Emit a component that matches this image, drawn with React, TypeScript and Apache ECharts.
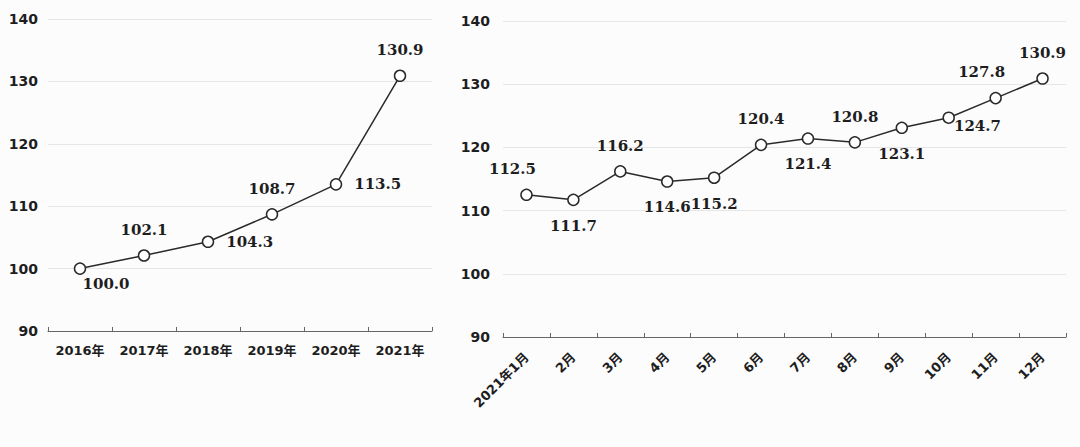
import React, { useEffect, useRef } from "react";
import * as echarts from "echarts";

const yearCats = ["2016年", "2017年", "2018年", "2019年", "2020年", "2021年"];
const yearVals = [100.0, 102.1, 104.3, 108.7, 113.5, 130.9];
const yearLabelPos = ["bottomRight", "top", "right", "top", "right", "top"];

const monthCats = ["2021年1月", "2月", "3月", "4月", "5月", "6月", "7月", "8月", "9月", "10月", "11月", "12月"];
const monthVals = [112.5, 111.7, 116.2, 114.6, 115.2, 120.4, 121.4, 120.8, 123.1, 124.7, 127.8, 130.9];
const monthLabelPos = ["topLeft", "bottom", "top", "bottom", "bottom", "top", "bottom", "top", "bottom", "rightLow", "topLeft", "top"];

const yTicks = { min: 90, max: 140, interval: 10 };

const NUM_FONT = "'DejaVu Serif', 'Noto Sans CJK SC', serif";
const AXIS_FONT = "'DejaVu Sans', 'Noto Sans CJK SC', sans-serif";

function labelFor(kind: string) {
  const base: any = {
    show: true,
    distance: 12,
    fontFamily: NUM_FONT,
    fontWeight: "bold",
    fontSize: 15,
    color: "#1e1e1e",
    formatter: (p: any) => Number(p.value).toFixed(1),
  };
  switch (kind) {
    case "bottomRight":
      return { ...base, position: "bottom", offset: [26, -10] };
    case "topLeft":
      return { ...base, position: "top", offset: [-14, 0] };
    case "rightLow":
      return { ...base, position: "right", offset: [-13, 8] };
    default:
      return { ...base, position: kind };
  }
}

export default function App() {
  const ref = useRef<HTMLDivElement>(null);
  useEffect(() => {
    if (!ref.current) return;
    const chart = echarts.init(ref.current, undefined, { renderer: "svg" });
    const yAxisBase = (gridIndex: number, margin: number) => ({
      type: "value",
      gridIndex,
      min: yTicks.min,
      max: yTicks.max,
      interval: yTicks.interval,
      axisLine: { show: false },
      axisTick: { show: false },
      axisLabel: {
        margin,
        fontFamily: AXIS_FONT,
        fontWeight: "bold",
        fontSize: 14,
        color: "#1e1e1e",
      },
      splitLine: { lineStyle: { color: "#e6e6e6", width: 1 } },
    });
    const xAxisBase = (gridIndex: number, data: string[], rotate: number) => ({
      type: "category",
      gridIndex,
      data,
      boundaryGap: true,
      axisLine: { lineStyle: { color: "#666", width: 1 } },
      axisTick: { show: true, inside: true, length: 4, interval: 0, lineStyle: { color: "#666" } },
      axisLabel: {
        interval: 0,
        rotate,
        margin: rotate ? 18 : 13,
        fontFamily: AXIS_FONT,
        fontWeight: "bold",
        fontSize: 13,
        color: "#1e1e1e",
      },
    });
    const seriesBase = {
      type: "line",
      symbol: "circle",
      symbolSize: 11,
      lineStyle: { color: "#2a2a2a", width: 1.5 },
      itemStyle: { color: "#ffffff", borderColor: "#2a2a2a", borderWidth: 1.5 },
    };
    chart.setOption({
      animation: false,
      backgroundColor: "#fcfcfd",
      grid: [
        { left: 48, top: 19, width: 384, height: 312 },
        { left: 503, top: 21, width: 563, height: 316 },
      ],
      xAxis: [xAxisBase(0, yearCats, 0), xAxisBase(1, monthCats, 45)],
      yAxis: [yAxisBase(0, 10), yAxisBase(1, 13)],
      series: [
        {
          ...seriesBase,
          xAxisIndex: 0,
          yAxisIndex: 0,
          data: yearVals.map((v, i) => ({ value: v, label: labelFor(yearLabelPos[i]) })),
        },
        {
          ...seriesBase,
          xAxisIndex: 1,
          yAxisIndex: 1,
          data: monthVals.map((v, i) => ({ value: v, label: labelFor(monthLabelPos[i]) })),
        },
      ],
    });
    return () => chart.dispose();
  }, []);
  return (
    <div
      ref={ref}
      style={{ position: "absolute", left: 0, top: 0, width: 1080, height: 447 }}
    />
  );
}
